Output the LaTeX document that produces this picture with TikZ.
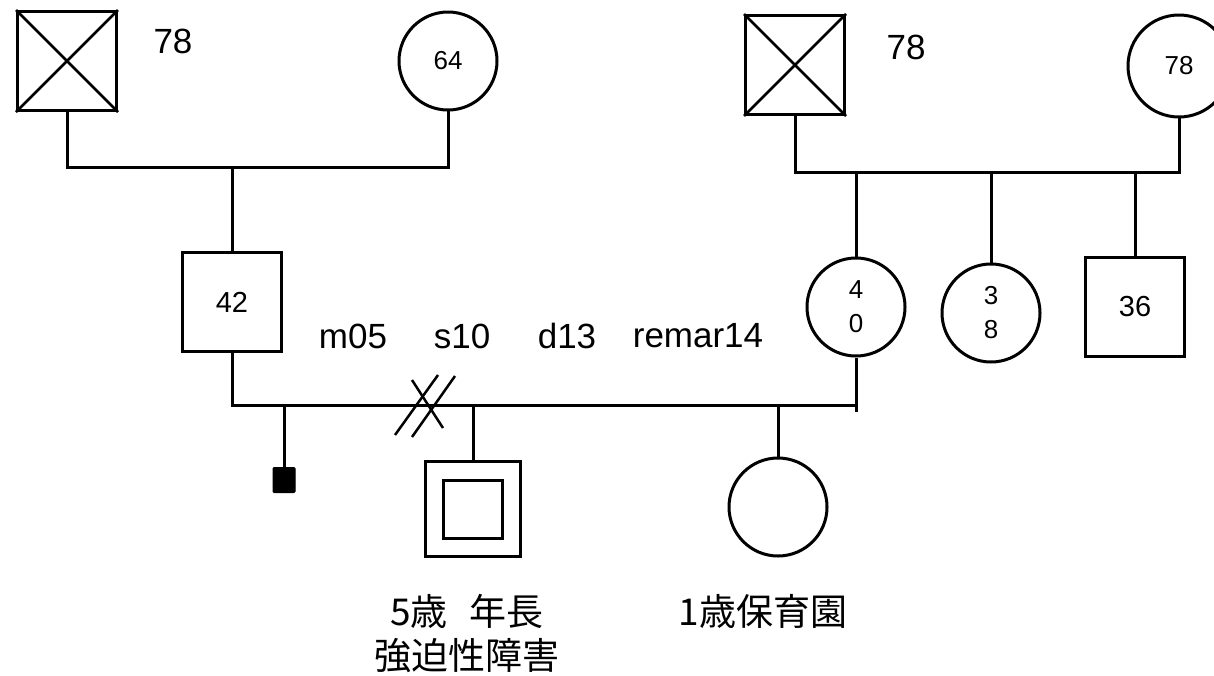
\documentclass[tikz,border=0pt]{standalone}
\usepackage{fontspec}
\usetikzlibrary{calc}
\setmainfont{Liberation Sans}
\newfontfamily\cjk{Noto Sans CJK JP}
\begin{document}
\begin{tikzpicture}[x=1pt,y=-1pt,line width=3pt,
  male/.style={draw,rectangle,minimum width=99pt,minimum height=99pt,inner sep=0pt,font=\fontsize{29}{34}\selectfont},
  female/.style={draw,circle,minimum size=98pt,inner sep=0pt,font=\fontsize{26}{34}\selectfont,align=center},
  lbl/.style={font=\fontsize{35}{40}\selectfont,inner sep=0pt},
  jlbl/.style={font=\cjk\fontsize{37}{46}\selectfont,inner sep=0pt,align=center},
  lnk/.style={line cap=rect}]
\useasboundingbox (0,0) rectangle (1214,675);
% paternal grandparents
\node[male] (gfa) at (67,61) {};
\draw[line width=2.5pt] (gfa.north west) -- (gfa.south east) (gfa.north east) -- (gfa.south west);
\node[lbl] (gfalbl) at (173,41) {78};
\node[female] (gma) at (448,61) {64};
\coordinate (pa) at (232,167);
\draw[lnk] (gfa.south) |- (pa) -| (gma.south);
% father
\node[male] (fa) at (232,302) {42};
\draw (pa) -- (fa.north);
% maternal grandparents
\node[male] (gfb) at (795,65) {};
\draw[line width=2.5pt] (gfb.north west) -- (gfb.south east) (gfb.north east) -- (gfb.south west);
\node[lbl] (gfblbl) at (906,47) {78};
\node[female,minimum size=102pt] (gmb) at (1179,66) {78};
\coordinate (pbl) at (795,172);
\draw[lnk] (gfb.south) |- (pbl) -| (gmb.south);
% maternal siblings
\node[female] (mo) at (856,307) {4\\0};
\node[female] (au) at (991,313) {3\\8};
\node[male] (un) at (1135,307) {36};
\draw (mo.north |- pbl) -- (mo.north);
\draw (au.north |- pbl) -- (au.north);
\draw (un.north |- pbl) -- (un.north);
% marriage line
\coordinate (ml) at (232,405);
\coordinate (mr) at (856,405);
\draw[lnk] (fa.south) -- (ml) -- (mr);
\draw (mo.south) -- ($(mr)+(0,7)$);
% marriage labels
\node[lbl] (m05) at (353,336) {m05};
\node[lbl] (s10) at (462,336) {s10};
\node[lbl] (d13) at (567,336) {d13};
\node[lbl] (rem) at (698,336) {remar14};
% divorce marks
\draw[line width=2.5pt] (395,435) -- (438,375);
\draw[line width=2.5pt] (412,437) -- (455,376);
\draw[line width=2.5pt] (412,380) -- (443,428);
% miscarriage
\node[draw,fill=black,minimum width=22pt,minimum height=25pt,inner sep=0pt,line width=1pt,rounded corners=1pt] (mc) at (284,480) {};
\draw (mc.north |- ml) -- (mc.north);
% son
\node[male,minimum width=95pt,minimum height=95pt] (son) at (473,509) {};
\node[draw,minimum width=59pt,minimum height=58pt,inner sep=0pt] (soni) at (son.center) {};
\draw (son.north |- ml) -- (son.north);
% daughter
\node[female] (da) at (778,507) {};
\draw (da.north |- ml) -- (da.north);
% bottom labels
\node[jlbl] (sonl1) at (467,611) {5歳\hspace{0.6em}年長};
\node[jlbl] (sonl2) at (467,656) {強迫性障害};
\node[jlbl] (dal) at (763,611) {1歳保育園};
\end{tikzpicture}
\end{document}
